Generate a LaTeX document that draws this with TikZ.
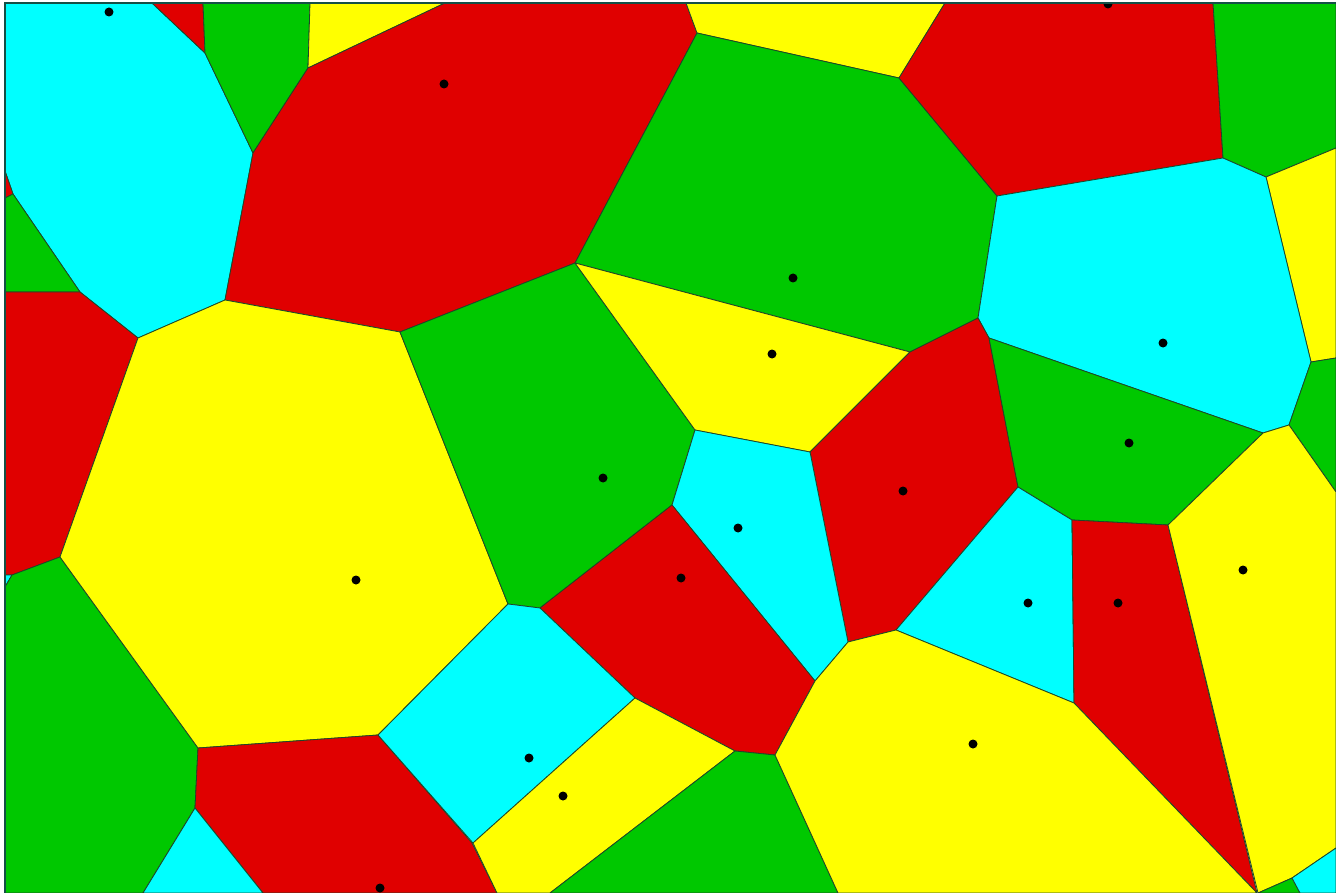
\documentclass[tikz,border=0pt]{standalone}
\definecolor{vred}{RGB}{224,0,0}
\definecolor{vgreen}{RGB}{0,200,0}
\definecolor{vyellow}{RGB}{255,255,0}
\definecolor{vcyan}{RGB}{0,255,255}
\definecolor{vedge}{RGB}{30,70,40}
\definecolor{vframe}{RGB}{20,80,70}
\tikzset{
  cell/.style={draw=vedge, line width=0.8pt, line join=round},
  rcell/.style={cell, fill=vred},
  gcell/.style={cell, fill=vgreen},
  ycell/.style={cell, fill=vyellow},
  ccell/.style={cell, fill=vcyan},
  site/.style={fill=black, draw=none}
}
\begin{document}
\begin{tikzpicture}[x=1pt,y=-1pt]
\useasboundingbox (0,0) rectangle (1336,893);
\fill[white] (0,0) rectangle (1336,893);
\begin{scope}
\clip (5,3) rectangle (1336,893);
% top-left area
\filldraw[ccell] (5,3)--(152,3)--(205,53)--(253,153)--(225,300)--(138,338)--(80,292)--(13,194)--(5,171)--cycle;
\filldraw[rcell] (152,3)--(203,3)--(205,53)--cycle;
\filldraw[rcell] (5,171)--(13,194)--(5,198)--cycle;
\filldraw[gcell] (203,3)--(310,3)--(308,68)--(253,153)--(205,53)--cycle;
\filldraw[ycell] (310,3)--(445,3)--(308,68)--cycle;
\filldraw[rcell] (308,68)--(445,3)--(686,3)--(697,33)--(575,263)--(400,332)--(225,300)--(253,153)--cycle;
\filldraw[gcell] (5,198)--(13,194)--(80,292)--(5,292)--cycle;
\filldraw[rcell] (5,292)--(80,292)--(138,338)--(60,557)--(12,575)--(5,575)--cycle;
\filldraw[ccell] (5,575)--(12,575)--(5,587)--cycle;
\filldraw[gcell] (5,587)--(12,575)--(60,557)--(198,748)--(195,808)--(143,893)--(5,893)--cycle;
\filldraw[ycell] (138,338)--(225,300)--(400,332)--(508,604)--(378,735)--(198,748)--(60,557)--cycle;
\filldraw[rcell] (198,748)--(378,735)--(472,843)--(497,893)--(263,893)--(195,808)--cycle;
\filldraw[ccell] (143,893)--(195,808)--(263,893)--cycle;
% top-middle / right
\filldraw[ycell] (686,3)--(945,3)--(899,78)--(697,33)--cycle;
\filldraw[gcell] (697,33)--(899,78)--(997,196)--(978,318)--(910,352)--(575,263)--cycle;
\filldraw[rcell] (945,3)--(1213,3)--(1223,158)--(997,196)--(899,78)--cycle;
\filldraw[gcell] (1213,3)--(1336,3)--(1336,148)--(1266,177)--(1223,158)--cycle;
\filldraw[ycell] (1266,177)--(1336,148)--(1336,358)--(1311,362)--cycle;
\filldraw[ccell] (997,196)--(1223,158)--(1266,177)--(1311,362)--(1289,425)--(1263,433)--(989,338)--(978,318)--cycle;
\filldraw[gcell] (1311,362)--(1336,358)--(1336,492)--(1289,425)--cycle;
% middle
\filldraw[gcell] (400,332)--(575,263)--(695,430)--(672,505)--(540,608)--(508,604)--cycle;
\filldraw[ycell] (575,263)--(910,352)--(810,452)--(695,430)--cycle;
\filldraw[rcell] (910,352)--(978,318)--(989,338)--(1018,487)--(896,630)--(848,642)--(810,452)--cycle;
\filldraw[gcell] (989,338)--(1263,433)--(1168,525)--(1072,520)--(1018,487)--cycle;
\filldraw[ccell] (1018,487)--(1072,520)--(1074,703)--(896,630)--cycle;
\filldraw[rcell] (1072,520)--(1168,525)--(1257,893)--(1074,703)--cycle;
\filldraw[ycell] (1168,525)--(1263,433)--(1289,425)--(1336,492)--(1336,848)--(1292,878)--(1258,893)--cycle;
\filldraw[gcell] (1258,893)--(1292,878)--(1300,893)--cycle;
\filldraw[ccell] (1292,878)--(1336,848)--(1336,893)--(1300,893)--cycle;
\filldraw[ccell] (695,430)--(810,452)--(848,642)--(815,681)--(672,505)--cycle;
\filldraw[rcell] (672,505)--(815,681)--(775,755)--(735,751)--(635,698)--(540,608)--cycle;
\filldraw[ccell] (378,735)--(508,604)--(540,608)--(635,698)--(473,843)--cycle;
\filldraw[ycell] (473,843)--(635,698)--(735,751)--(550,893)--(497,893)--cycle;
\filldraw[gcell] (735,751)--(775,755)--(838,893)--(550,893)--cycle;
\filldraw[ycell] (815,681)--(848,642)--(896,630)--(1074,703)--(1257,893)--(838,893)--(775,755)--cycle;
% sites
\foreach \p in {(109,12),(444,84),(793,278),(1108,4),(1163,343),(772,354),(603,478),
  (903,491),(738,528),(1129,443),(356,580),(681,578),(1028,603),(1118,603),
  (1243,570),(973,744),(529,758),(563,796),(380,888)}
  \fill[site] \p circle (4.5);
\end{scope}
% frame
\draw[vframe, line width=1.6pt] (5,893)--(5,3)--(1336,3);
\end{tikzpicture}
\end{document}
